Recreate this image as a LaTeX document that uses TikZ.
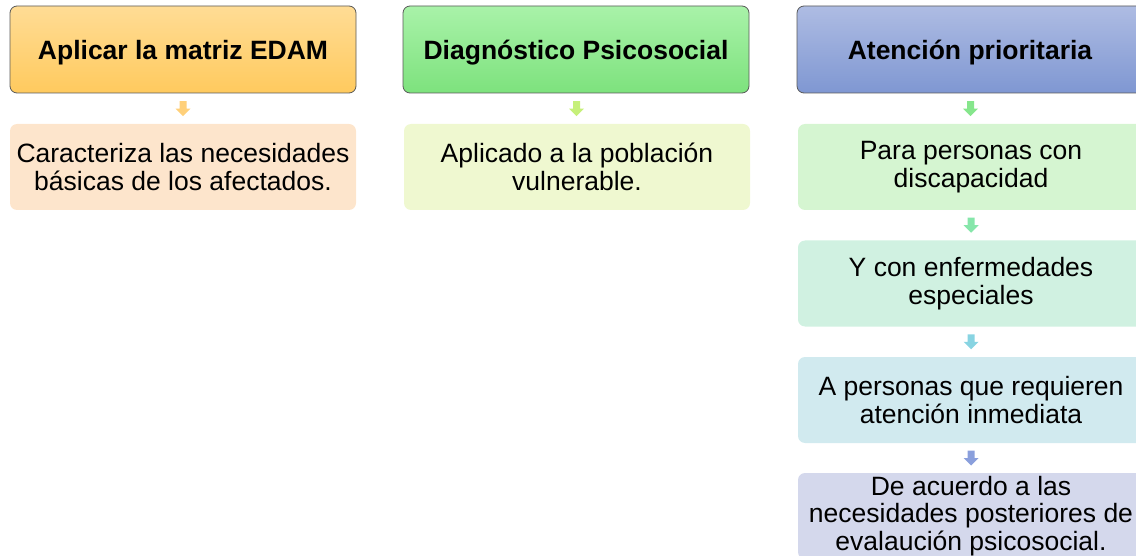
\documentclass[tikz,border=0pt]{standalone}
\usepackage{fontspec}
\setmainfont{Liberation Sans}
\usetikzlibrary{calc}
\definecolor{hOtop}{HTML}{FFDC95}
\definecolor{hObot}{HTML}{FFCA5E}
\definecolor{hGtop}{HTML}{A9F2A9}
\definecolor{hGbot}{HTML}{7DE27D}
\definecolor{hBtop}{HTML}{AEBCE3}
\definecolor{hBbot}{HTML}{7F97D2}
\definecolor{cO}{HTML}{FDE5CC}
\definecolor{cY}{HTML}{EFF8D0}
\definecolor{cG}{HTML}{D5F5D1}
\definecolor{cM}{HTML}{D0F1E1}
\definecolor{cC}{HTML}{D1EAEF}
\definecolor{cL}{HTML}{D4D8EC}
\definecolor{aO}{HTML}{FFD07A}
\definecolor{aY}{HTML}{C6F07A}
\definecolor{aG}{HTML}{86E68C}
\definecolor{aM}{HTML}{86E6AA}
\definecolor{aC}{HTML}{88D4E2}
\definecolor{aL}{HTML}{8A9FDC}
\definecolor{edge}{HTML}{595959}
\tikzset{
  head/.style={rounded corners=7pt, draw=edge, line width=0.8pt,
    minimum width=346pt, minimum height=87pt, inner sep=0pt, text depth=0pt,
    font=\fontsize{26.5}{28}\selectfont\bfseries, align=center},
  child/.style={rounded corners=7pt, minimum width=346pt, minimum height=86pt,
    inner sep=0pt, font=\fontsize{26.5}{27.5}\selectfont, align=center},
  pics/darrow/.style={code={
    \fill[#1] (-3.5,-7.5) -- (3.5,-7.5) -- (3.5,0) -- (7.5,0) -- (0,7.5)
      -- (-7.5,0) -- (-3.5,0) -- cycle;}}
}
\begin{document}
\begin{tikzpicture}[x=1pt,y=-1pt]
\useasboundingbox (0,0) rectangle (1136,556);
\clip (0,0) rectangle (1136,556);
% column 1
\node[head, top color=hOtop, bottom color=hObot] (h1) at (183,49.5) {Aplicar la matriz EDAM};
\node[child, fill=cO] (c1) at (183,167) {Caracteriza las necesidades\\básicas de los afectados.};
% column 2
\node[head, top color=hGtop, bottom color=hGbot] (h2) at (576,49.5) {Diagnóstico Psicosocial};
\node[child, fill=cY] (c2) at (577,167) {Aplicado a la población\\vulnerable.};
% column 3
\node[head, top color=hBtop, bottom color=hBbot] (h3) at (970,49.5) {Atención prioritaria};
\node[child, fill=cG] (d1) at (971,167) {Para personas con\\discapacidad};
\node[child, fill=cM] (d2) at (971,283.5) {Y con enfermedades\\especiales};
\node[child, fill=cC] (d3) at (971,400) {A personas que requieren\\atención inmediata};
\node[child, fill=cL] (d4) at (971,516) {De acuerdo a las\\necesidades posteriores de\\evalaución psicosocial.};
% arrows
\pic at ($(h1.south)!0.5!(c1.north)$) {darrow=aO};
\pic at ($(h2.south)!0.5!(c2.north)$) {darrow=aY};
\pic at ($(h3.south)!0.5!(d1.north)$) {darrow=aG};
\pic at ($(d1.south)!0.5!(d2.north)$) {darrow=aM};
\pic at ($(d2.south)!0.5!(d3.north)$) {darrow=aC};
\pic at ($(d3.south)!0.5!(d4.north)$) {darrow=aL};
\end{tikzpicture}
\end{document}
